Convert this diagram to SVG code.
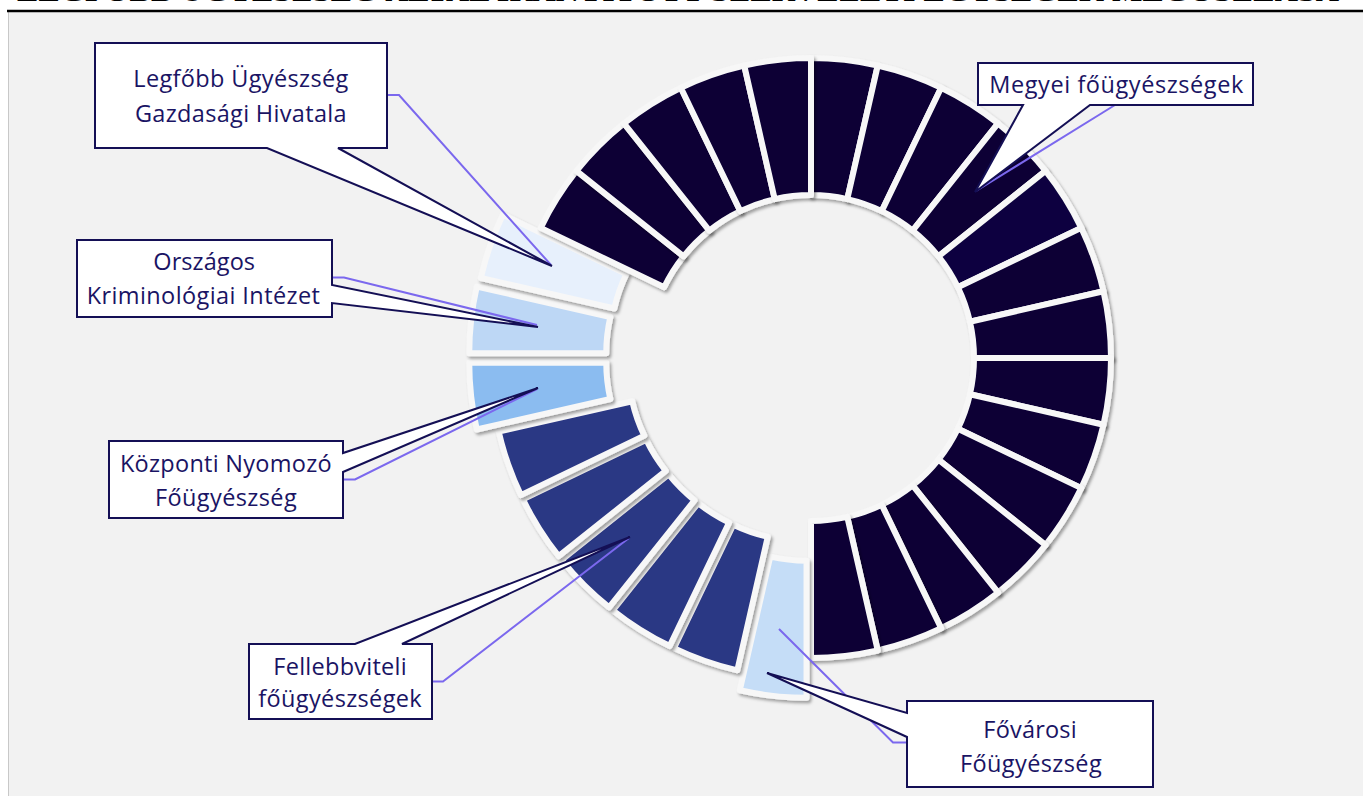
<svg xmlns="http://www.w3.org/2000/svg" width="1363" height="796" viewBox="0 0 1363 796">
<defs>
<filter id="sh" x="-20%" y="-20%" width="140%" height="140%">
<feDropShadow dx="2" dy="2.5" stdDeviation="1.8" flood-color="#000" flood-opacity="0.35"/>
</filter>
</defs>
<style>
.seg{stroke:#f7f7f7;stroke-width:6;stroke-linejoin:round;filter:url(#sh)}
.dk{fill:#0b0036}
.fb{fill:#2b3784}
.co{fill:#ffffff;stroke:#140f55;stroke-width:2;stroke-linejoin:miter}
.lbl{font-family:"Open Sans","Liberation Sans",sans-serif;font-size:23.5px;fill:#1a1464;text-anchor:middle}
.ld{fill:none;stroke:#7b68ee;stroke-width:2}
.ttl{font-family:"Liberation Serif",serif;font-weight:bold;font-size:28px;fill:#000;text-anchor:middle}
</style>
<rect x="0" y="0" width="1363" height="796" fill="#ffffff"/>
<text class="ttl" x="678" y="0.5" textLength="1322" lengthAdjust="spacingAndGlyphs">LEGFŐBB ÜGYÉSZSÉG ÁLTAL IRÁNYÍTOTT SZERVEZETI EGYSÉGEK MEGOSZLÁSA</text>
<rect x="8" y="11" width="1356" height="786" fill="#f2f2f2"/>
<line x1="8.5" y1="11" x2="8.5" y2="796" stroke="#c8c8c8" stroke-width="1"/>
<line x1="7" y1="11" x2="1363" y2="11" stroke="#000" stroke-width="2.5"/>

<g id="donut">
<path class="seg dk" d="M811,58 A300,300 0 0 1 877.76,65.52 L847.27,199.09 A163,163 0 0 0 811,195 Z"/>
<path class="seg dk" d="M877.76,65.52 A300,300 0 0 1 941.16,87.71 L881.72,211.14 A163,163 0 0 0 847.27,199.09 Z"/>
<path class="seg dk" d="M941.16,87.71 A300,300 0 0 1 998.05,123.45 L912.63,230.56 A163,163 0 0 0 881.72,211.14 Z"/>
<path class="seg dk" d="M998.05,123.45 A300,300 0 0 1 1045.55,170.95 L938.44,256.37 A163,163 0 0 0 912.63,230.56 Z"/>
<path class="seg" fill="#0e0640" d="M1045.55,170.95 A300,300 0 0 1 1081.29,227.84 L957.86,287.28 A163,163 0 0 0 938.44,256.37 Z"/>
<path class="seg dk" d="M1081.29,227.84 A300,300 0 0 1 1103.48,291.24 L969.91,321.73 A163,163 0 0 0 957.86,287.28 Z"/>
<path class="seg dk" d="M1103.48,291.24 A300,300 0 0 1 1111,358 L974,358 A163,163 0 0 0 969.91,321.73 Z"/>
<path class="seg dk" d="M1111,358 A300,300 0 0 1 1103.48,424.76 L969.91,394.27 A163,163 0 0 0 974,358 Z"/>
<path class="seg dk" d="M1103.48,424.76 A300,300 0 0 1 1081.29,488.16 L957.86,428.72 A163,163 0 0 0 969.91,394.27 Z"/>
<path class="seg dk" d="M1081.29,488.16 A300,300 0 0 1 1045.55,545.05 L938.44,459.63 A163,163 0 0 0 957.86,428.72 Z"/>
<path class="seg dk" d="M1045.55,545.05 A300,300 0 0 1 998.05,592.55 L912.63,485.44 A163,163 0 0 0 938.44,459.63 Z"/>
<path class="seg dk" d="M998.05,592.55 A300,300 0 0 1 941.16,628.29 L881.72,504.86 A163,163 0 0 0 912.63,485.44 Z"/>
<path class="seg dk" d="M941.16,628.29 A300,300 0 0 1 877.76,650.48 L847.27,516.91 A163,163 0 0 0 881.72,504.86 Z"/>
<path class="seg dk" d="M877.76,650.48 A300,300 0 0 1 811,658 L811,521 A163,163 0 0 0 847.27,516.91 Z"/>
<path id="seg-fovarosi" class="seg" fill="#c5ddf7" transform="translate(-4.48,39.75)" d="M811,658 A300,300 0 0 1 744.24,650.48 L774.73,516.91 A163,163 0 0 0 811,521 Z"/>
<path class="seg fb" transform="translate(-6.94,19.82)" d="M744.24,650.48 A300,300 0 0 1 680.84,628.29 L740.28,504.86 A163,163 0 0 0 774.73,516.91 Z"/>
<path class="seg fb" transform="translate(-11.17,17.78)" d="M680.84,628.29 A300,300 0 0 1 623.95,592.55 L709.37,485.44 A163,163 0 0 0 740.28,504.86 Z"/>
<path class="seg fb" transform="translate(-14.85,14.85)" d="M623.95,592.55 A300,300 0 0 1 576.45,545.05 L683.56,459.63 A163,163 0 0 0 709.37,485.44 Z"/>
<path class="seg fb" transform="translate(-17.78,11.17)" d="M576.45,545.05 A300,300 0 0 1 540.71,488.16 L664.14,428.72 A163,163 0 0 0 683.56,459.63 Z"/>
<path class="seg fb" transform="translate(-19.82,6.94)" d="M540.71,488.16 A300,300 0 0 1 518.52,424.76 L652.09,394.27 A163,163 0 0 0 664.14,428.72 Z"/>
<path id="seg-knyf" class="seg" fill="#8bbcf0" transform="translate(-41.74,4.7)" d="M518.52,424.76 A300,300 0 0 1 511,358 L648,358 A163,163 0 0 0 652.09,394.27 Z"/>
<path id="seg-okri" class="seg" fill="#bdd7f5" transform="translate(-41.74,-4.7)" d="M511,358 A300,300 0 0 1 518.52,291.24 L652.09,321.73 A163,163 0 0 0 648,358 Z"/>
<path id="seg-lfugh" class="seg" fill="#e7f0fc" transform="translate(-37.76,-13.21)" d="M518.52,291.24 A300,300 0 0 1 540.71,227.84 L664.14,287.28 A163,163 0 0 0 652.09,321.73 Z"/>
<path class="seg dk" d="M540.71,227.84 A300,300 0 0 1 576.45,170.95 L683.56,256.37 A163,163 0 0 0 664.14,287.28 Z"/>
<path class="seg dk" d="M576.45,170.95 A300,300 0 0 1 623.95,123.45 L709.37,230.56 A163,163 0 0 0 683.56,256.37 Z"/>
<path class="seg dk" d="M623.95,123.45 A300,300 0 0 1 680.84,87.71 L740.28,211.14 A163,163 0 0 0 709.37,230.56 Z"/>
<path class="seg dk" d="M680.84,87.71 A300,300 0 0 1 744.24,65.52 L774.73,199.09 A163,163 0 0 0 740.28,211.14 Z"/>
<path class="seg dk" d="M744.24,65.52 A300,300 0 0 1 811,58 L811,195 A163,163 0 0 0 774.73,199.09 Z"/>
</g>

<g id="connectors">
<polyline class="ld" points="387,95 399,95 551,265"/>
<polyline class="ld" points="332,277.5 344,277.5 537,325"/>
<polyline class="ld" points="343,479.5 355,479.5 537,389"/>
<polyline class="ld" points="432,681.5 443,681.5 629,538"/>
<polyline class="ld" points="907,742.5 893,742.5 779,629"/>
<polyline class="ld" points="1115,105 976,191"/>
</g>

<g id="node-lfugh">
<path class="co" d="M95,43 H387 V148 H338 L552,266 L267,148 H95 Z"/>
<text class="lbl" x="240.8" y="86.7" textLength="215">Legfőbb Ügyészség</text>
<text class="lbl" x="240.8" y="121.7" textLength="211.7">Gazdasági Hivatala</text>
</g>
<g id="node-okri">
<path class="co" d="M77,240 H332 V285 L538,327 L332,303 V317 H77 Z"/>
<text class="lbl" x="204.2" y="270" textLength="101.7">Országos</text>
<text class="lbl" x="203.3" y="304" textLength="233.3">Kriminológiai Intézet</text>
</g>
<g id="node-knyf">
<path class="co" d="M109,441 H343 V453 L538,388 L343,472 V518 H109 Z"/>
<text class="lbl" x="225.8" y="471.7" textLength="211.7">Központi Nyomozó</text>
<text class="lbl" x="225.8" y="506" textLength="141.7">Főügyészség</text>
</g>
<g id="node-fellebbviteli">
<path class="co" d="M249,644 H355 L630,537 L402,644 H432 V719 H249 Z"/>
<text class="lbl" x="340" y="675" textLength="133.3">Fellebbviteli</text>
<text class="lbl" x="340" y="706.7" textLength="163.3">főügyészségek</text>
</g>
<g id="node-fovarosi">
<path class="co" d="M907,701 H1153 V787 H907 V737 L767,673 L907,713 Z"/>
<text class="lbl" x="1030" y="738.3" textLength="93.3">Fővárosi</text>
<text class="lbl" x="1030.8" y="771.7" textLength="141.7">Főügyészség</text>
</g>
<g id="node-megyei">
<path class="co" d="M978,63 H1253 V105 H1090 L975,192 L1023,105 H978 Z"/>
<text class="lbl" x="1116.3" y="93.3" textLength="254">Megyei főügyészségek</text>
</g>
</svg>
